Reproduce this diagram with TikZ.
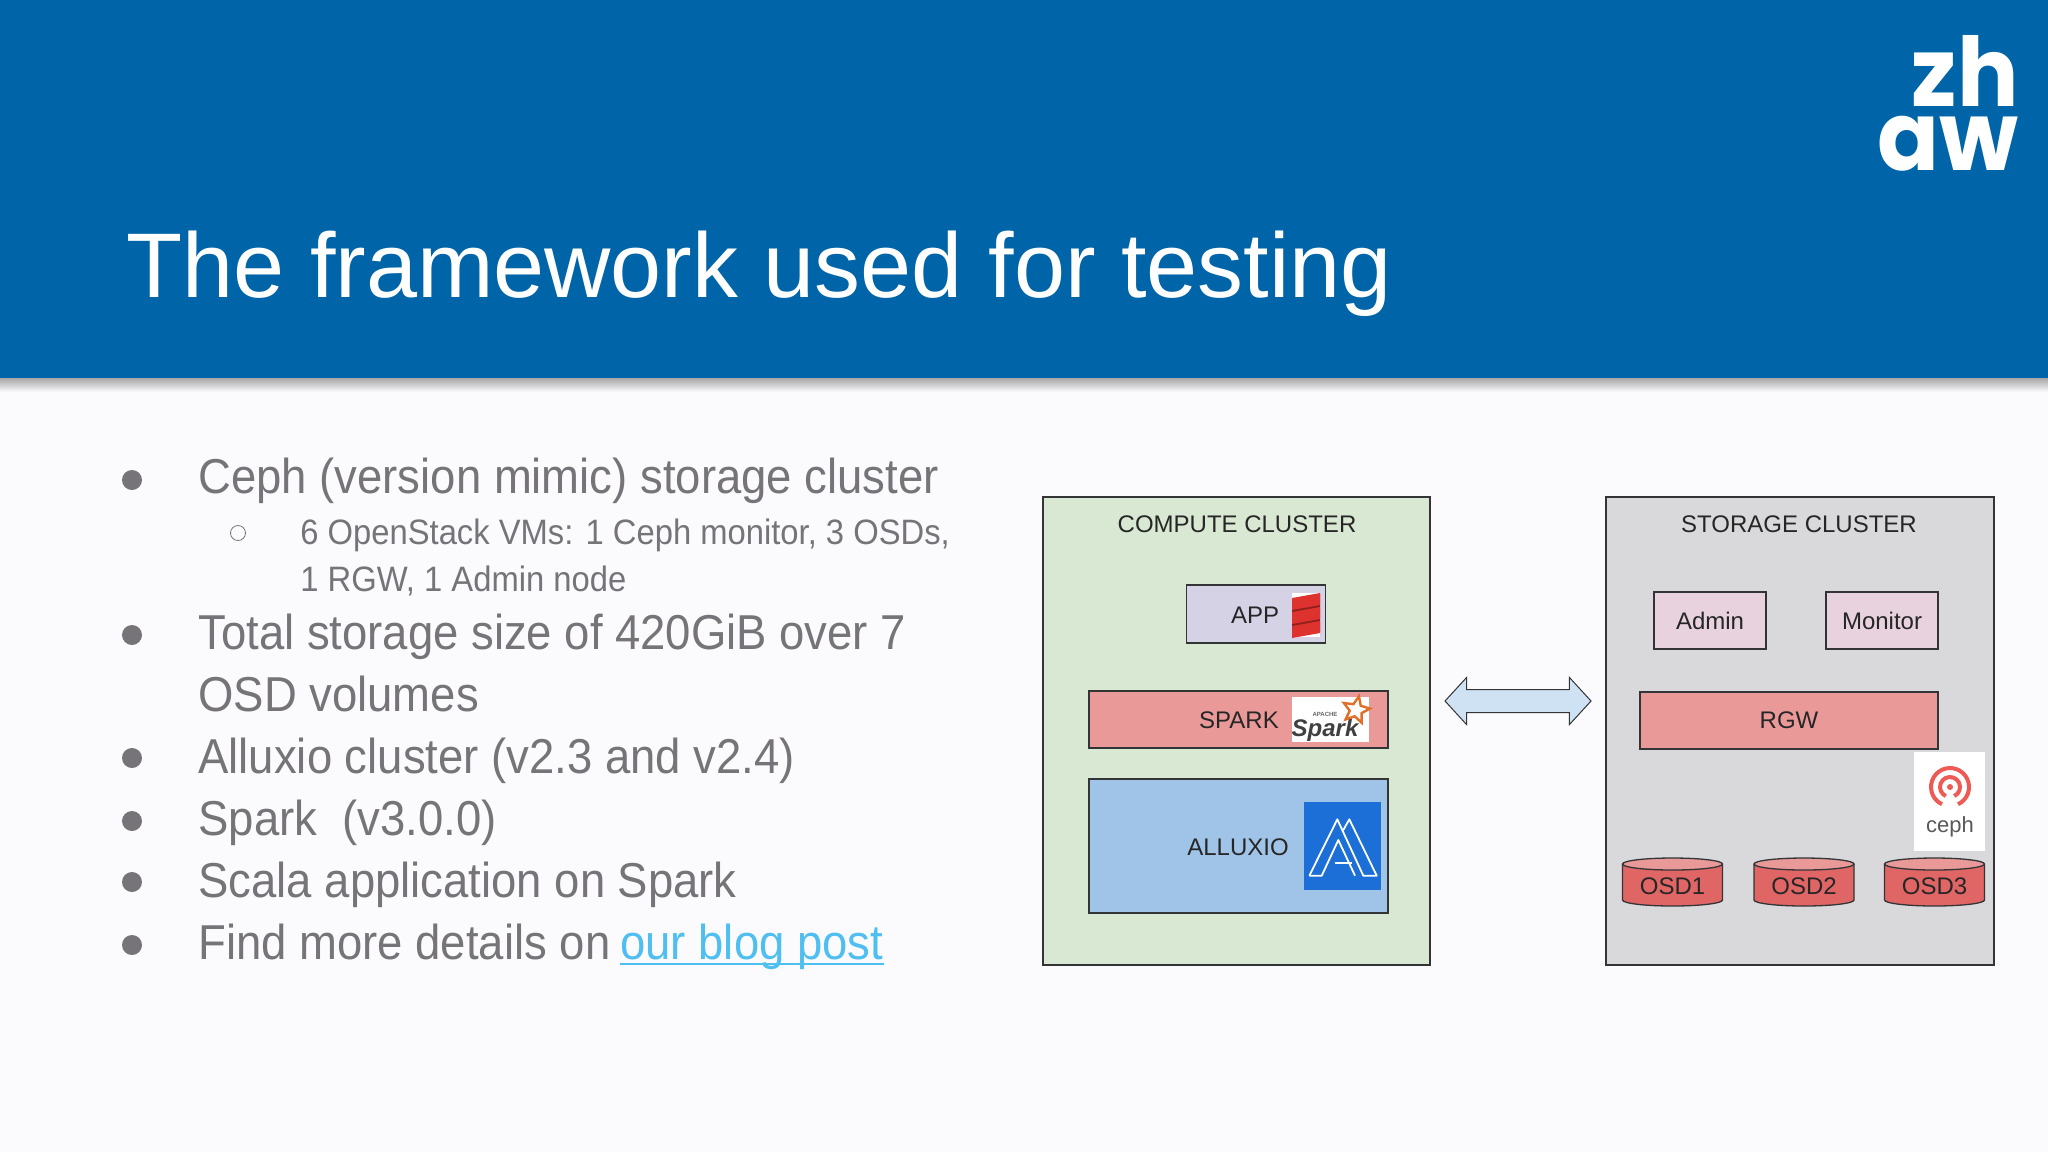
\documentclass[tikz,border=0pt]{standalone}
\usepackage{fontspec}
\setmainfont{Liberation Sans}
\newfontfamily\listfont[FakeStretch=0.928]{Liberation Sans}
\newfontfamily\logofont[FakeStretch=0.95]{Poppins}
\usepackage{tikz}
\usetikzlibrary{shapes,positioning,shadows}
\usepackage{xcolor}
\definecolor{zhblue}{RGB}{0,101,168}
\definecolor{pagebg}{RGB}{251,250,253}
\definecolor{bodygray}{RGB}{118,116,120}
\definecolor{linkblue}{RGB}{79,190,240}
\definecolor{boxline}{RGB}{50,52,54}
\definecolor{computegreen}{RGB}{217,232,211}
\definecolor{applilac}{RGB}{214,210,230}
\definecolor{sparkred}{RGB}{234,153,153}
\definecolor{alluxioblue}{RGB}{160,196,232}
\definecolor{storagegray}{RGB}{217,217,219}
\definecolor{adminpink}{RGB}{232,210,222}
\definecolor{osdred}{RGB}{224,102,102}
\definecolor{arrowblue}{RGB}{207,226,243}
\definecolor{logoblue}{RGB}{28,111,214}
\definecolor{scalared}{RGB}{222,50,46}
\definecolor{sparkstar}{RGB}{226,110,40}
\definecolor{cephred}{RGB}{238,90,84}
\tikzstyle{bodytext} = [anchor=base west, inner sep=0pt, text=bodygray, font=\listfont\fontsize{24.5}{28}\selectfont]
\tikzstyle{subtext} = [anchor=base west, inner sep=0pt, text=bodygray, font=\listfont\fontsize{17.65}{23}\selectfont]
\tikzstyle{bigbullet} = [circle, fill=bodygray, inner sep=0pt, minimum size=10pt]
\tikzstyle{diagbox} = [rectangle, draw=boxline, line width=0.65pt, inner sep=0pt, outer sep=0pt, text=black!85, font=\fontsize{12}{14}\selectfont]
\tikzstyle{diagtext} = [inner sep=0pt, text=black!85, font=\fontsize{12}{14}\selectfont]
\tikzstyle{logobox} = [rectangle, fill=white, inner sep=0pt]
\tikzstyle{logotext} = [anchor=base east, inner sep=0pt, text=white, font=\logofont\bfseries\fontsize{48}{50}\selectfont]

\begin{document}
\begin{tikzpicture}[x=0.5pt,y=-0.5pt]
\useasboundingbox (0,0) rectangle (2048,1152);
\fill[pagebg] (0,0) rectangle (2048,1152);

% Header
\shade[top color=black!35, bottom color=pagebg] (0,378) rectangle (2048,392);
\fill[zhblue] (0,0) rectangle (2048,378);
\node[anchor=base west, inner sep=0pt, text=white, font=\fontsize{45.9}{50}\selectfont] (title) at (126,297) {The framework used for testing};
\node[logotext] (logozh) at (2019,106) {zh};
\node[logotext] (logoaw) at (2019,170) {aw};

% Bullet list
\node[bodytext] (ceph) at (198,493) {Ceph (version mimic) storage cluster};
\node[subtext] (vms) at (300,544) {6 OpenStack VMs: 1 Ceph monitor, 3 OSDs,};
\node[subtext] (vmstwo) at (300,591) {1 RGW, 1 Admin node};
\node[bodytext] (total) at (198,649) {Total storage size of 420GiB over 7};
\node[bodytext] (volumes) at (198,711) {OSD volumes};
\node[bodytext] (alluxiover) at (198,773) {Alluxio cluster (v2.3 and v2.4)};
\node[bodytext] (sparkver) at (198,835) {Spark \ (v3.0.0)};
\node[bodytext] (scala) at (198,897) {Scala application on Spark};
\node[bodytext] (find) at (198,959) {Find more details on};
\node[bodytext, text=linkblue] (blog) at (620,959) {our blog post};
\draw[linkblue, line width=1.2pt] ([yshift=-2.5pt]blog.base west) -- ([yshift=-2.5pt]blog.base east);
\foreach \y in {480,635,758,821,882,945} {
    \node[bigbullet] at (132,\y) {};
}
\node[circle, draw=bodygray, line width=0.4pt, inner sep=0pt, minimum size=7.5pt] (subbullet) at (238,533) {};

% Compute cluster
\node[diagbox, fill=computegreen, minimum width=193.5pt, minimum height=234pt] (compute) at (1236.5,731) {};
\node[diagtext] (computetext) at (1237,524) {COMPUTE CLUSTER};
\node[diagbox, fill=applilac, minimum width=69.5pt, minimum height=29pt] (app) at (1256,614) {};
\node[diagtext] (apptext) at (1255,615) {APP};
\node[diagbox, fill=sparkred, minimum width=149.5pt, minimum height=28.5pt] (spark) at (1238.5,719.5) {};
\node[diagtext] (sparktext) at (1239,720) {SPARK};
\node[diagbox, fill=alluxioblue, minimum width=149.5pt, minimum height=67pt] (alluxio) at (1238.5,846) {};
\node[diagtext] (alluxiotext) at (1238,847) {ALLUXIO};

% Scala logo
\node[logobox, minimum width=14pt, minimum height=22pt] (scalalogo) at (1306,615) {};
\fill[scalared!65!black] (1292,599) -- (1320,594) -- (1320,632) -- (1292,637) -- cycle;
\foreach \y in {598,612,626} {
    \fill[scalared] (1292,\y) -- (1320,{\y-5}) -- (1320,{\y+7}) -- (1292,{\y+12}) -- cycle;
}

% Spark logo
\node[logobox, minimum width=38.5pt, minimum height=22.5pt] (sparklogo) at (1330.5,719.5) {};
\node[inner sep=0pt, text=black!75, font=\bfseries\itshape\fontsize{12}{14}\selectfont] (sparkname) at (1325,730) {Spark};
\node[inner sep=0pt, text=black!60, font=\bfseries\fontsize{3}{4}\selectfont] (sparkapache) at (1325,714) {APACHE};
\node[star, star points=5, star point ratio=2.2, draw=sparkstar, line width=1.2pt, inner sep=0pt, minimum size=14pt, rotate=-12] (sparkstarshape) at (1356,710) {};

% Alluxio logo
\node[rectangle, fill=logoblue, inner sep=0pt, minimum width=38.5pt, minimum height=44pt] (alluxiologo) at (1342.5,846) {};
\draw[white, line width=0.9pt, line join=round] (1309.3,875.7) -- (1337.3,819.3) -- (1363.3,875.7) -- (1376.7,875.7) -- (1349.3,819.3) -- (1343.3,830);
\draw[white, line width=0.9pt, line join=round] (1309.3,875.7) -- (1321.7,875.7) -- (1338.3,840) -- (1355,875.7);
\draw[white, line width=0.9pt] (1335,863.3) -- (1351.7,863.3);

% Link between the clusters
\node[double arrow, draw=boxline, fill=arrowblue, line width=0.5pt, inner sep=5.5pt, outer sep=0pt, minimum height=73pt, double arrow head extend=6pt, double arrow head indent=0pt, double arrow tip angle=95] (link) at (1518,701) {};

% Storage cluster
\node[diagbox, fill=storagegray, minimum width=194pt, minimum height=234pt] (storage) at (1800,731) {};
\node[diagtext] (storagetext) at (1799,524) {STORAGE CLUSTER};
\node[diagbox, fill=adminpink, minimum width=56pt, minimum height=28.5pt] (admin) at (1710,620.5) {Admin};
\node[diagbox, fill=adminpink, minimum width=56pt, minimum height=28.5pt] (monitor) at (1882,620.5) {Monitor};
\node[diagbox, fill=sparkred, minimum width=149pt, minimum height=28.5pt] (rgw) at (1789,720.5) {RGW};

% Ceph logo
\node[logobox, minimum width=35.5pt, minimum height=49.5pt] (cephlogo) at (1949.5,801.5) {};
\foreach \r in {9.5pt,5pt} {
    \draw[cephred, line width=2pt] (1950,787) ++(-65:\r) arc[start angle=-65, end angle=245, radius=\r];
}
\fill[cephred] (1950,787) circle (1.5pt);
\node[inner sep=0pt, text=black!65, font=\fontsize{11}{13}\selectfont] (cephname) at (1950,827) {ceph};

% OSD disks
\foreach \x/\i in {1672.5/1,1804/2,1934.5/3} {
    \draw[boxline, fill=osdred, line width=0.65pt] ({\x-50},864) -- ({\x-50},900) arc[start angle=180, end angle=360, x radius=25pt, y radius=3pt] -- ({\x+50},864);
    \draw[boxline, fill=sparkred, line width=0.65pt] (\x,864) ellipse [x radius=25pt, y radius=3pt];
    \node[diagtext] (osd\i) at (\x,886) {OSD\i};
}
\end{tikzpicture}
\end{document}
